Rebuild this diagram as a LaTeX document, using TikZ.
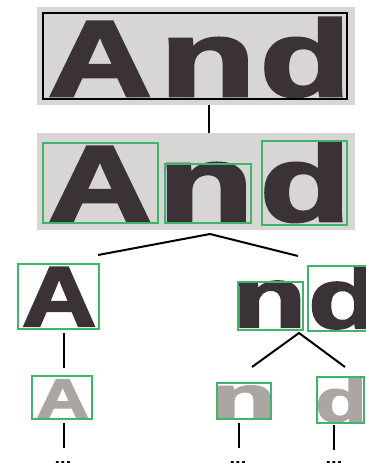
\documentclass[tikz,border=0pt]{standalone}
\usepackage{fontspec}
\setmainfont{Liberation Sans}
\newfontfamily\heavyfont{Liberation Sans Bold}[FakeBold=2.5]
\usepackage{graphicx}
\definecolor{bggray}{HTML}{D8D5D5}
\definecolor{inkdark}{HTML}{3A3236}
\definecolor{inklight}{HTML}{ABA6A2}
\definecolor{boxgreen}{HTML}{3DB56A}
\tikzset{
  bg/.style={fill=bggray, draw=none, inner sep=0pt, outer sep=0pt, anchor=north west},
  frame/.style={draw=black, line width=1.5pt, inner sep=0pt, outer sep=0pt, anchor=north west},
  gbox/.style={draw=boxgreen, line width=1.5pt, inner sep=0pt, outer sep=0pt, anchor=north west},
  letter/.style={inner sep=0pt, outer sep=0pt, anchor=base west, text=inkdark},
  lightletter/.style={letter, text=inklight},
  link/.style={line width=2pt, draw=black},
  dotsnode/.style={inner sep=0pt, outer sep=0pt, anchor=center, font=\fontsize{20}{20}\selectfont\bfseries},
}
\newcommand\glyph[3]{{\fontsize{#1}{#1}\heavyfont\scalebox{#2}[1]{#3}}}
\begin{document}
\begin{tikzpicture}[x=1pt,y=-1pt]
\useasboundingbox (0,0) rectangle (366,463);
% row 1
\node[bg, minimum width=318pt, minimum height=98pt] (top) at (37,7) {};
\node[letter] (A1) at (48,96) {\glyph{108}{1.33}{A}};
\node[letter] (n1) at (160,96) {\glyph{108}{1.45}{n}};
\node[letter] (d1) at (260,96) {\glyph{108}{1.37}{d}};
\node[frame, minimum width=304pt, minimum height=86pt] (fr) at (43,13) {};
% row 2
\node[bg, minimum width=318pt, minimum height=97pt] (mid) at (37,133) {};
\node[letter] (A2) at (48,221) {\glyph{108}{1.33}{A}};
\node[letter] (n2) at (158,221) {\glyph{108}{1.45}{n}};
\node[letter] (d2) at (260,221) {\glyph{108}{1.37}{d}};
\node[gbox, minimum width=115pt, minimum height=80pt] (gA2) at (43,143) {};
\node[gbox, minimum width=86pt, minimum height=59pt] (gn2) at (165,164) {};
\node[gbox, minimum width=85pt, minimum height=84pt] (gd2) at (262,141) {};
% row 3
\node[letter] (A3) at (22,326) {\glyph{85}{1.21}{A}};
\node[letter] (n3) at (232.5,327) {\glyph{85}{1.42}{n}};
\node[letter] (d3) at (308.4,328) {\glyph{85}{1.37}{d}};
\node[gbox, minimum width=81pt, minimum height=65pt] (gA3) at (18,264) {};
\node[gbox, minimum width=65pt, minimum height=48pt] (gn3) at (238,282) {};
\node[gbox, minimum width=62pt, minimum height=65pt] (gd3) at (308,266) {};
% row 4
\node[lightletter] (A4) at (36.5,417.5) {\glyph{55}{1.32}{A}};
\node[lightletter] (n4) at (211.5,417.5) {\glyph{59}{1.78}{n}};
\node[lightletter] (d4) at (315.5,421.5) {\glyph{60}{1.40}{d}};
\node[gbox, minimum width=60pt, minimum height=43pt] (gA4) at (32,376) {};
\node[gbox, minimum width=54pt, minimum height=36pt] (gn4) at (217,383) {};
\node[gbox, minimum width=47pt, minimum height=46pt] (gd4) at (317,377) {};
% dots
\node[dotsnode] (dA) at (63,463) {...};
\node[dotsnode] (dn) at (238,463) {...};
\node[dotsnode] (dd) at (334,463) {...};
% connector ends
\coordinate (t1) at (209,105);
\coordinate (t2) at (209,133);
\coordinate (apex1) at (210,234);
\coordinate (l1) at (98,255);
\coordinate (r1) at (298,256);
\coordinate (a3b) at (64,333);
\coordinate (a4t) at (64,368);
\coordinate (apex2) at (299,333);
\coordinate (l2) at (252,367);
\coordinate (r2) at (345,367);
\coordinate (a4b) at (64,423);
\coordinate (a5) at (64,448);
\coordinate (n4b) at (239,423);
\coordinate (n5) at (239,448);
\coordinate (d4b) at (334,425);
\coordinate (d5) at (334,450);
% connectors
\draw[link] (t1) -- (t2);
\draw[link] (l1) -- (apex1) -- (r1);
\draw[link] (a3b) -- (a4t);
\draw[link] (l2) -- (apex2) -- (r2);
\draw[link] (a4b) -- (a5);
\draw[link] (n4b) -- (n5);
\draw[link] (d4b) -- (d5);
\end{tikzpicture}
\end{document}
